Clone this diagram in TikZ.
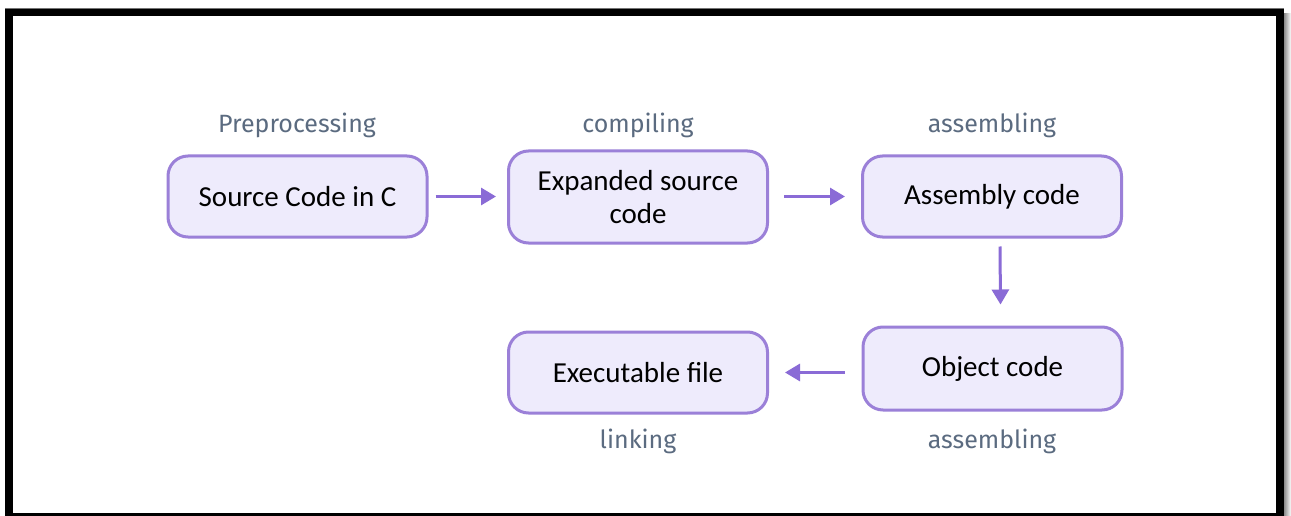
\documentclass[tikz,border=0pt]{standalone}
\usepackage{fontspec}
\setmainfont{Carlito}
\newfontfamily\labelfont{Fira Sans}
\usetikzlibrary{arrows.meta}
\definecolor{boxfill}{HTML}{EEEBFC}
\definecolor{boxline}{HTML}{9B80D8}
\definecolor{flowline}{HTML}{8A6BD6}
\definecolor{stagetext}{HTML}{5B6B80}
\tikzset{
  stepbox/.style={draw=boxline, fill=boxfill, line width=3pt, rounded corners=20pt,
    minimum width=259pt, align=center, font=\fontsize{29}{33}\selectfont, text=black},
  stagelabel/.style={font=\labelfont\fontsize{25}{30}\selectfont, text=stagetext},
  flow/.style={draw=flowline, line width=3pt, -{Triangle[length=15pt,width=17pt]}}
}
\begin{document}
\begin{tikzpicture}[x=1pt,y=-1pt]
\useasboundingbox (0,0) rectangle (1291,516);
\clip (0,0) rectangle (1291,516);
% frame with a soft shadow on the right
\shade[left color=black!45, right color=white] (1284,14) rectangle (1291,516);
\fill[black!55] (5,8) rectangle (1284,9);
\fill[black] (5,9) rectangle (1284,530);
\fill[white] (13,16) rectangle (1276,513);
% boxes
\node[stepbox, minimum height=81pt] (src) at (297.5,196.5) {Source Code in C};
\node[stepbox, minimum height=92pt] (exp) at (638,197) {Expanded source\\code};
\node[stepbox, minimum height=81pt] (asm) at (992,196.5) {Assembly code};
\node[stepbox, minimum height=83pt] (obj) at (992.5,368.5) {Object code};
\node[stepbox, minimum height=81pt] (exe) at (638,372.5) {Executable file};
% stage labels
\node[stagelabel] (l1) at (297,125) {Preprocessing};
\node[stagelabel] (l2) at (638,125) {compiling};
\node[stagelabel] (l3) at (992,125) {assembling};
\node[stagelabel] (l4) at (992,441) {assembling};
\node[stagelabel] (l5) at (638,441) {linking};
% connectors (shifts are in page directions: positive yshift points up)
\draw[flow] ([xshift=7pt]src.east) -- ([xshift=-11pt]src.east -| exp.west);
\draw[flow] ([xshift=15pt]exp.east |- asm.east) -- ([xshift=-16pt]asm.west);
\draw[flow] ([xshift=8pt,yshift=-8pt]asm.south) -- ([xshift=8pt,yshift=21pt]obj.north);
\draw[flow] ([xshift=-17pt]obj.west |- exe.east) -- ([xshift=16pt]exe.east);
\end{tikzpicture}
\end{document}
